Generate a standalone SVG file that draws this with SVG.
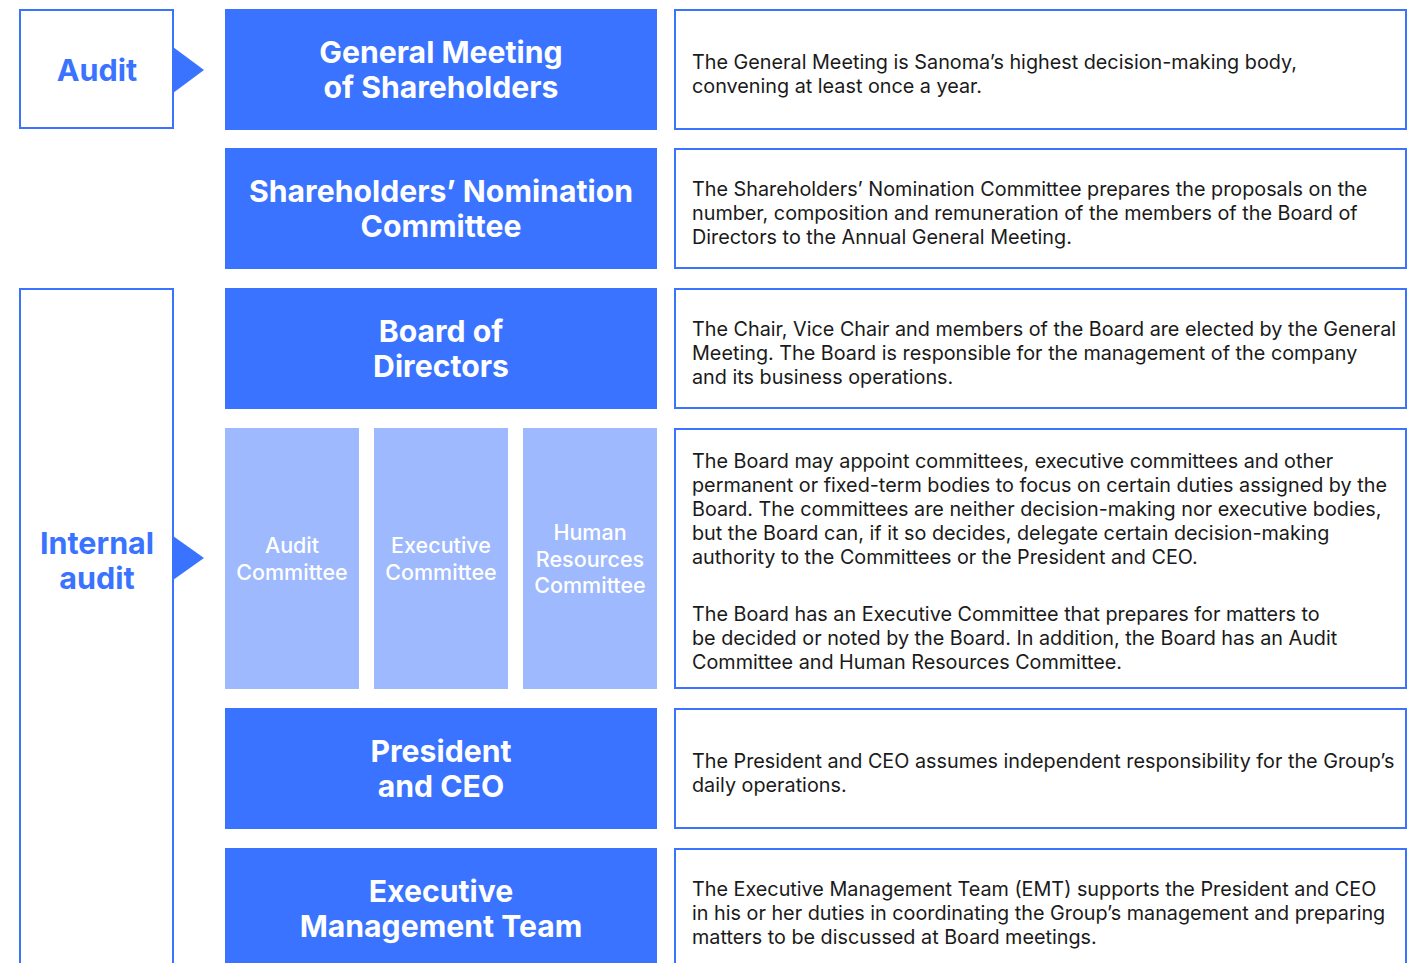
<svg xmlns="http://www.w3.org/2000/svg" width="1428" height="963" viewBox="0 0 1428 963">
<style>
.bx{fill:#3A73FF}
.lt{fill:#9EB9FD}
.ds{fill:#fff;stroke:#3A73FF;stroke-width:2}
.au{fill:#fff;stroke:#3A73FF;stroke-width:2}
.arr{fill:#3A73FF}
.tt{font-family:Inter,"Noto Sans",sans-serif;font-weight:700;font-size:30.2px;fill:#fff;text-anchor:middle}
.st{font-family:Inter,"Noto Sans",sans-serif;font-weight:500;font-size:21.5px;fill:#fff;text-anchor:middle}
.at{font-family:Inter,"Noto Sans",sans-serif;font-weight:700;font-size:30.5px;fill:#3A73FF;text-anchor:middle}
.dt{font-family:Inter,"Noto Sans",sans-serif;font-weight:400;font-size:19.8px;fill:#1a1a1a}
</style>
<rect width="1428" height="963" fill="#fff"/>
<g id="audit">
<rect class="au" x="20" y="10" width="153" height="118"/>
<text class="at" x="97" y="81">Audit</text>
</g>
<g id="internal-audit">
<rect class="au" x="20" y="289" width="153" height="700"/>
<text class="at" x="97" y="554">Internal</text>
<text class="at" x="97" y="589">audit</text>
</g>
<g id="connectors">
<polygon class="arr" points="173,47 204,70 173,93"/>
<polygon class="arr" points="173,536 204,558 173,580"/>
</g>
<g id="general-meeting">
<rect class="bx" x="225" y="9" width="432" height="121"/>
<text class="tt" x="441" y="63">General Meeting</text>
<text class="tt" x="441" y="98">of Shareholders</text>
</g>
<g id="nomination-committee">
<rect class="bx" x="225" y="148" width="432" height="121"/>
<text class="tt" x="441" y="202">Shareholders’ Nomination</text>
<text class="tt" x="441" y="237">Committee</text>
</g>
<g id="board">
<rect class="bx" x="225" y="288" width="432" height="121"/>
<text class="tt" x="441" y="342">Board of</text>
<text class="tt" x="441" y="377">Directors</text>
</g>
<g id="audit-committee">
<rect class="lt" x="225" y="428" width="134" height="261"/>
<text class="st" x="292" y="553">Audit</text>
<text class="st" x="292" y="580">Committee</text>
</g>
<g id="executive-committee">
<rect class="lt" x="374" y="428" width="134" height="261"/>
<text class="st" x="441" y="553">Executive</text>
<text class="st" x="441" y="580">Committee</text>
</g>
<g id="hr-committee">
<rect class="lt" x="523" y="428" width="134" height="261"/>
<text class="st" x="590" y="540">Human</text>
<text class="st" x="590" y="567">Resources</text>
<text class="st" x="590" y="593">Committee</text>
</g>
<g id="president">
<rect class="bx" x="225" y="708" width="432" height="121"/>
<text class="tt" x="441" y="762">President</text>
<text class="tt" x="441" y="797">and CEO</text>
</g>
<g id="emt">
<rect class="bx" x="225" y="848" width="432" height="130"/>
<text class="tt" x="441" y="902">Executive</text>
<text class="tt" x="441" y="937">Management Team</text>
</g>
<g id="desc-gm">
<rect class="ds" x="675" y="10" width="731" height="119"/>
<text class="dt" x="692" y="69">The General Meeting is Sanoma’s highest decision-making body,</text>
<text class="dt" x="692" y="93">convening at least once a year.</text>
</g>
<g id="desc-nom">
<rect class="ds" x="675" y="149" width="731" height="119"/>
<text class="dt" x="692" y="196">The Shareholders’ Nomination Committee prepares the proposals on the</text>
<text class="dt" x="692" y="220">number, composition and remuneration of the members of the Board of</text>
<text class="dt" x="692" y="244">Directors to the Annual General Meeting.</text>
</g>
<g id="desc-board">
<rect class="ds" x="675" y="289" width="731" height="119"/>
<text class="dt" x="692" y="336">The Chair, Vice Chair and members of the Board are elected by the General</text>
<text class="dt" x="692" y="360">Meeting. The Board is responsible for the management of the company</text>
<text class="dt" x="692" y="384">and its business operations.</text>
</g>
<g id="desc-committees">
<rect class="ds" x="675" y="429" width="731" height="259"/>
<text class="dt" x="692" y="468">The Board may appoint committees, executive committees and other</text>
<text class="dt" x="692" y="492">permanent or fixed-term bodies to focus on certain duties assigned by the</text>
<text class="dt" x="692" y="516">Board. The committees are neither decision-making nor executive bodies,</text>
<text class="dt" x="692" y="540">but the Board can, if it so decides, delegate certain decision-making</text>
<text class="dt" x="692" y="564">authority to the Committees or the President and CEO.</text>
<text class="dt" x="692" y="621">The Board has an Executive Committee that prepares for matters to</text>
<text class="dt" x="692" y="645">be decided or noted by the Board. In addition, the Board has an Audit</text>
<text class="dt" x="692" y="669">Committee and Human Resources Committee.</text>
</g>
<g id="desc-president">
<rect class="ds" x="675" y="709" width="731" height="119"/>
<text class="dt" x="692" y="768">The President and CEO assumes independent responsibility for the Group’s</text>
<text class="dt" x="692" y="792">daily operations.</text>
</g>
<g id="desc-emt">
<rect class="ds" x="675" y="849" width="731" height="130"/>
<text class="dt" x="692" y="896">The Executive Management Team (EMT) supports the President and CEO</text>
<text class="dt" x="692" y="920">in his or her duties in coordinating the Group’s management and preparing</text>
<text class="dt" x="692" y="944">matters to be discussed at Board meetings.</text>
</g>
</svg>
